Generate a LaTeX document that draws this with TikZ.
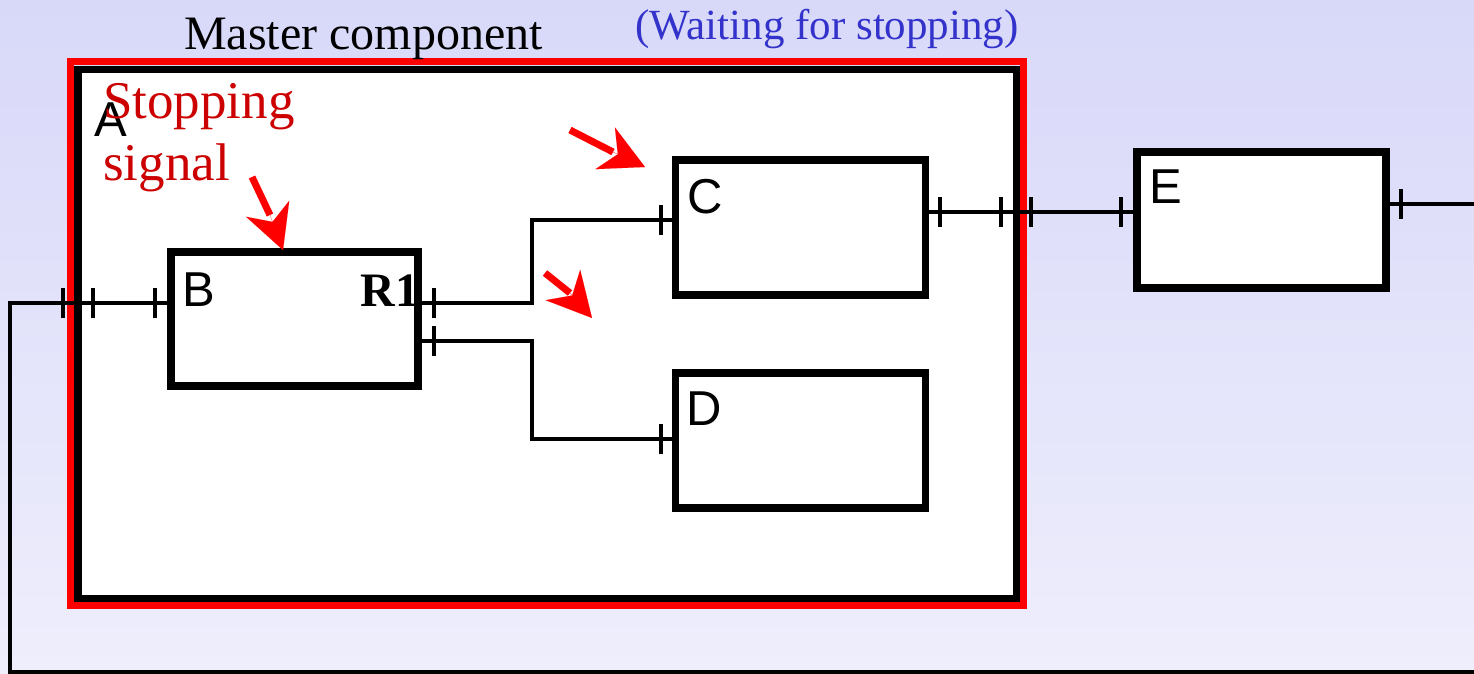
\documentclass[tikz,border=0pt]{standalone}
\usepackage{fontspec}
\setmainfont{Liberation Serif}
\setsansfont{Liberation Sans}
\usetikzlibrary{arrows.meta, calc}
\definecolor{bgtop}{HTML}{D8D8F9}
\definecolor{bgbottom}{HTML}{EEEEFC}
\definecolor{framered}{HTML}{FF0000}
\definecolor{signalred}{HTML}{CC0000}
\definecolor{waitblue}{HTML}{3333CC}

\begin{document}
\begin{tikzpicture}[x=1pt, y=-1pt]
    \tikzstyle{comp} = [rectangle, draw=black, fill=white, line width=7.5pt, inner sep=0pt]
    \tikzstyle{wire} = [draw=black, line width=3.4pt]
    \tikzstyle{porttick} = [draw=black, line width=3.4pt]
    \tikzstyle{boxlabel} = [inner sep=0pt, anchor=base west, font=\sffamily\fontsize{49}{58}\selectfont]
    \tikzstyle{sigshaft} = [draw=framered, line width=7pt]
    \tikzstyle{sighead} = [draw=framered, fill=framered, line width=0.01pt, -{Stealth[length=44pt, width=46pt, inset=14pt]}]

    \useasboundingbox (0,0) rectangle (1474,673);
    \shade[top color=bgtop, bottom color=bgbottom] (0,0) rectangle (1474,673);

    % master component A
    \node (Aframe) [rectangle, draw=framered, line width=7pt, minimum width=953pt, minimum height=543.5pt] at (547,333.25) {};
    \node (A) [comp, minimum width=938.5pt, minimum height=529pt] at (547.25,334) {};

    % inner components and E
    \node (B) [comp, minimum width=247pt, minimum height=134pt] at (294.5,319) {};
    \node (C) [comp, minimum width=250pt, minimum height=135pt] at (800.5,227.5) {};
    \node (D) [comp, minimum width=250pt, minimum height=135pt] at (800.5,440.5) {};
    \node (E) [comp, minimum width=249pt, minimum height=136pt] at (1261.5,220) {};

    % ports
    \coordinate (pAwOut) at (63,303);
    \coordinate (pAwIn) at (93,303);
    \coordinate (pBin) at (155,303);
    \coordinate (pR1a) at (434,303);
    \coordinate (pR1b) at (434,341);
    \coordinate (pCin) at (661,220);
    \coordinate (pDin) at (661,439);
    \coordinate (pCout) at (940,212);
    \coordinate (pAeIn) at (1001,212);
    \coordinate (pAeOut) at (1031,212);
    \coordinate (pEin) at (1121,212);
    \coordinate (pEout) at (1401,204);
    \coordinate (jogC) at (532,303);
    \coordinate (jogD) at (532,341);
    \coordinate (loopSW) at (10,672);
    \coordinate (loopE) at (1474,672);
    \coordinate (outE) at (1474,204);

    \draw[wire] (B.west |- pBin) -- (pAwOut) -| (loopSW) -- (loopE);
    \draw[wire] (B.east |- pR1a) -- (jogC) |- (C.west |- pCin);
    \draw[wire] (B.east |- pR1b) -- (jogD) |- (D.west |- pDin);
    \draw[wire] (C.east |- pCout) -- (E.west |- pEin);
    \draw[wire] (E.east |- pEout) -- (outE);
    \foreach \p in {pAwOut,pAwIn,pBin,pR1a,pR1b,pCin,pDin,pCout,pAeIn,pAeOut,pEin,pEout}
        \draw[porttick] ($(\p)+(0,-15)$) -- ($(\p)+(0,15)$);

    % labels
    \node (Alabel) [boxlabel] at ($(A.north west)+(20,70.5)$) {A};
    \node (Blabel) [boxlabel] at ($(B.north west)+(15,58)$) {B};
    \node (Clabel) [boxlabel] at ($(C.north west)+(16,57)$) {C};
    \node (Dlabel) [boxlabel] at ($(D.north west)+(15,56)$) {D};
    \node (Elabel) [boxlabel] at ($(E.north west)+(16,55)$) {E};
    \node (R1) [anchor=base east, inner sep=0pt, font=\bfseries\fontsize{48}{58}\selectfont] at ($(B.north east)+(-2,58)$) {R1};
    \node (title) [anchor=base, inner sep=0pt, font=\fontsize{48}{58}\selectfont] at (363.5,49) {Master component};
    \node (waiting) [anchor=base, inner sep=0pt, text=waitblue, font=\fontsize{43}{50}\selectfont] at (827,39) {(Waiting for stopping)};
    \node (signal) [anchor=base west, inner sep=0pt, align=left, text=signalred, font=\fontsize{53}{62}\selectfont] at (103,180) {Stopping\\signal};

    % stopping signal arrows
    \coordinate (sigBtail) at (252,177);
    \coordinate (sigBend) at (270,215);
    \coordinate (sigBtip) at (283,250);
    \coordinate (sigCtail) at (570,130);
    \coordinate (sigCend) at (613,152);
    \coordinate (sigCtip) at (645,167);
    \coordinate (sigDtail) at (545,273);
    \coordinate (sigDend) at (570,293);
    \coordinate (sigDtip) at (592,318);
    \draw[sigshaft] (sigBtail) -- (sigBend);
    \draw[sighead] (sigBend) -- (sigBtip);
    \draw[sigshaft] (sigCtail) -- (sigCend);
    \draw[sighead] (sigCend) -- (sigCtip);
    \draw[sigshaft] (sigDtail) -- (sigDend);
    \draw[sighead] (sigDend) -- (sigDtip);
\end{tikzpicture}
\end{document}
